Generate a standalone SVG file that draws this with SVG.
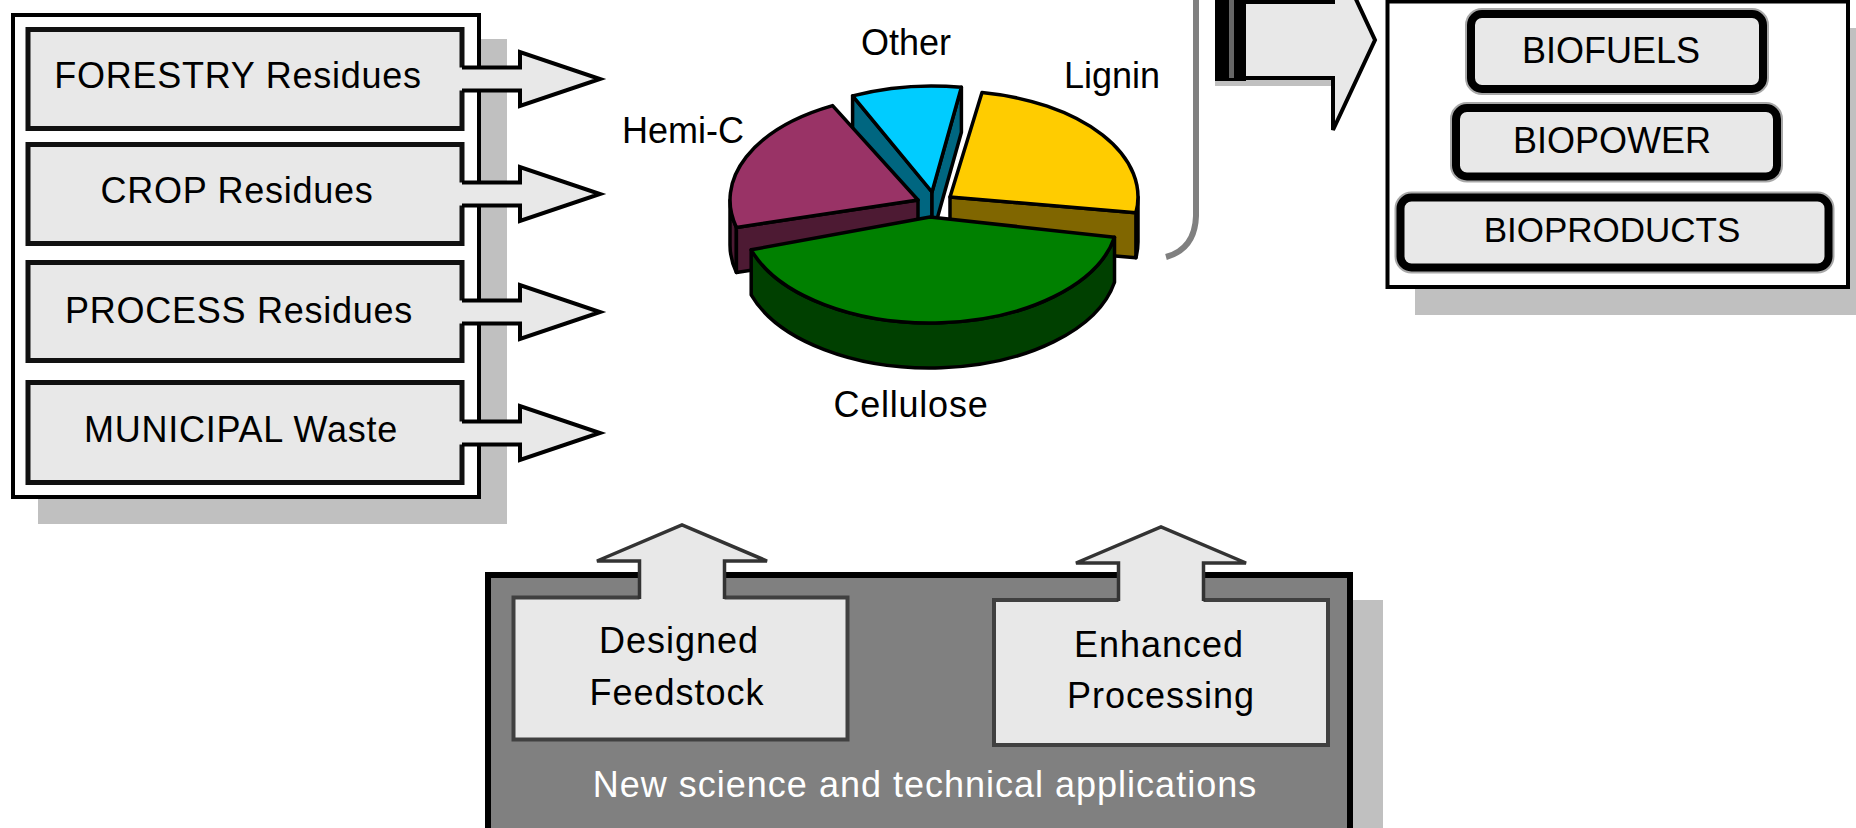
<svg xmlns="http://www.w3.org/2000/svg" xmlns:xlink="http://www.w3.org/1999/xlink" width="1856" height="828" viewBox="0 0 1856 828">
<style>
  .t{font-family:"Liberation Sans",Arial,Helvetica,sans-serif;font-size:36px;fill:#000;text-anchor:middle}
  .tw{letter-spacing:1px}
  .ts{letter-spacing:0.75px}
  .shadow{fill:#c0c0c0}
  .src{fill:#e8e8e8;stroke:#111;stroke-width:5}
  .prod-halo{fill:none;stroke:#a8a8a8;stroke-width:12}
  .prod{fill:#e8e8e8;stroke:#000;stroke-width:8}
  .inner{fill:#e8e8e8;stroke:#404040;stroke-width:4}
  .pie{stroke:#000;stroke-width:3.5;stroke-linejoin:round}
  .afill{fill:#e8e8e8;stroke:none}
  .aline{fill:none;stroke:#000;stroke-width:4;stroke-linejoin:miter}
  .uline{fill:none;stroke:#333;stroke-width:3.5;stroke-linejoin:miter}
</style>
<defs>
  <g id="arrowR">
    <polygon class="afill" points="458,-11.5 520,-11.5 520,-27 600,0 520,27 520,11.5 458,11.5"/>
    <polyline class="aline" points="462,-11.5 520,-11.5 520,-27 600,0 520,27 520,11.5 462,11.5"/>
  </g>
  <g id="arrowU">
    <polygon class="afill" points="-42.5,77 -42.5,36 -85,36 0,0 85,36 42.5,36 42.5,77"/>
    <polyline class="uline" points="-42.5,74 -42.5,36 -85,36 0,0 85,36 42.5,36 42.5,74"/>
  </g>
</defs>
<rect width="1856" height="828" fill="#fff"/>

<!-- Feedstock panel -->
<g id="feedstock-panel">
  <rect class="shadow" x="38" y="39" width="469" height="485"/>
  <rect x="13" y="15" width="466" height="482" fill="#fff" stroke="#000" stroke-width="4"/>
</g>
<g id="node-forestry">
  <rect class="src" x="28" y="29.5" width="434" height="99"/>
  <text class="t ts" x="238" y="88">FORESTRY Residues</text>
</g>
<g id="node-crop">
  <rect class="src" x="28" y="144.5" width="434" height="99"/>
  <text class="t ts" x="237" y="203">CROP Residues</text>
</g>
<g id="node-process">
  <rect class="src" x="28" y="262.5" width="434" height="98"/>
  <text class="t ts" x="239" y="323">PROCESS Residues</text>
</g>
<g id="node-municipal">
  <rect class="src" x="28" y="382.5" width="434" height="100"/>
  <text class="t ts" x="241" y="442">MUNICIPAL Waste</text>
</g>

<!-- Pie chart -->
<g id="pie">
  <g id="slice-other">
    <polygon class="pie" fill="#006680" points="932,192 852.6,95.9 852.6,140.9 932,237"/>
    <polygon class="pie" fill="#006680" points="932,192 961.4,87.3 961.4,132.3 932,237"/>
    <path class="pie" fill="#00ccff" d="M932,192 L852.6,95.9 A188,106 0 0 1 961.4,87.3 Z"/>
  </g>
  <g id="slice-hemic">
    <path class="pie" fill="#4d1a33" d="M730,200 A188,106 0 0 0 736.4,227.4 L736.4,272.4 A188,106 0 0 1 730,245 Z"/>
    <polygon class="pie" fill="#4d1a33" points="918,200 736.4,227.4 736.4,272.4 918,245"/>
    <path class="pie" fill="#993366" d="M918,200 L736.4,227.4 A188,106 0 0 1 832.6,105.6 Z"/>
  </g>
  <g id="slice-lignin">
    <path class="pie" fill="#806600" d="M1138,197 A188,106 0 0 1 1135.9,212.7 L1135.9,257.7 A188,106 0 0 0 1138,242 Z"/>
    <polygon class="pie" fill="#806600" points="950,197 1135.9,212.7 1135.9,257.7 950,242"/>
    <path class="pie" fill="#ffcc00" d="M950,197 L982,92.5 A188,106 0 0 1 1135.9,212.7 Z"/>
  </g>
  <g id="slice-cellulose">
    <path class="pie" fill="#004000" d="M1114.5,237.2 A188,106 0 0 1 751.2,249.8 L751.2,294.8 A188,106 0 0 0 1114.5,282.2 Z"/>
    <path class="pie" fill="#008000" d="M930,217 L1114.5,237.2 A188,106 0 0 1 751.2,249.8 Z"/>
  </g>
  <text class="t" x="906" y="55">Other</text>
  <text class="t" x="1112" y="88">Lignin</text>
  <text class="t" x="683" y="143">Hemi-C</text>
  <text class="t ts" x="911" y="417">Cellulose</text>
</g>

<!-- Bracket -->
<g id="bracket">
  <path d="M1196,0 V216 Q1195,249 1166,257" fill="none" stroke="#808080" stroke-width="6"/>
</g>

<!-- Products panel -->
<g id="products-panel">
  <rect class="shadow" x="1415" y="28" width="441" height="287"/>
  <rect x="1387.5" y="1.5" width="460.5" height="285.5" fill="#fff" stroke="#000" stroke-width="4"/>
</g>
<g id="node-biofuels">
  <rect class="prod-halo" x="1471" y="14" width="292" height="75" rx="11"/>
  <rect class="prod" x="1471" y="14" width="292" height="75" rx="11"/>
  <text class="t" x="1611" y="63">BIOFUELS</text>
</g>
<g id="node-biopower">
  <rect class="prod-halo" x="1456" y="108" width="321" height="68.5" rx="11"/>
  <rect class="prod" x="1456" y="108" width="321" height="68.5" rx="11"/>
  <text class="t" x="1612" y="153">BIOPOWER</text>
</g>
<g id="node-bioproducts">
  <rect class="prod-halo" x="1400.5" y="197.5" width="428" height="70" rx="11"/>
  <rect class="prod" x="1400.5" y="197.5" width="428" height="70" rx="11"/>
  <text class="t" x="1612" y="242" style="font-size:35px">BIOPRODUCTS</text>
</g>

<!-- Science panel -->
<g id="science-panel">
  <rect class="shadow" x="1353" y="600" width="30" height="228"/>
  <rect x="488" y="575" width="862" height="270" fill="#808080" stroke="#000" stroke-width="6"/>
  <text class="t tw" x="925" y="797" style="fill:#fff">New science and technical applications</text>
</g>
<g id="node-designed">
  <rect class="inner" x="513.5" y="597.5" width="334" height="142"/>
  <text class="t tw" x="679" y="653">Designed</text>
  <text class="t tw" x="677" y="705">Feedstock</text>
</g>
<g id="node-enhanced">
  <rect class="inner" x="994" y="600" width="334" height="145"/>
  <text class="t tw" x="1159" y="657">Enhanced</text>
  <text class="t tw" x="1161" y="708">Processing</text>
</g>

<!-- Connectors -->
<g id="connectors">
  <use xlink:href="#arrowR" href="#arrowR" x="0" y="79"/>
  <use xlink:href="#arrowR" href="#arrowR" x="0" y="194"/>
  <use xlink:href="#arrowR" href="#arrowR" x="0" y="312"/>
  <use xlink:href="#arrowR" href="#arrowR" x="0" y="433"/>
  <use xlink:href="#arrowU" href="#arrowU" x="682" y="525"/>
  <use xlink:href="#arrowU" href="#arrowU" x="1161" y="527"/>
  <g id="arrow-to-products">
    <rect x="1215" y="78" width="118" height="8" fill="#c0c0c0"/>
    <polygon class="afill" points="1245,2 1333,2 1333,-50 1375,40 1333,130 1333,78 1245,78"/>
    <polyline class="aline" points="1245,2 1333,2 1333,-50 1375,40 1333,130 1333,78 1245,78"/>
    <rect x="1215" y="0" width="31" height="81" fill="#000"/>
    <rect x="1229" y="0" width="5" height="78" fill="#666"/>
  </g>
</g>
</svg>
